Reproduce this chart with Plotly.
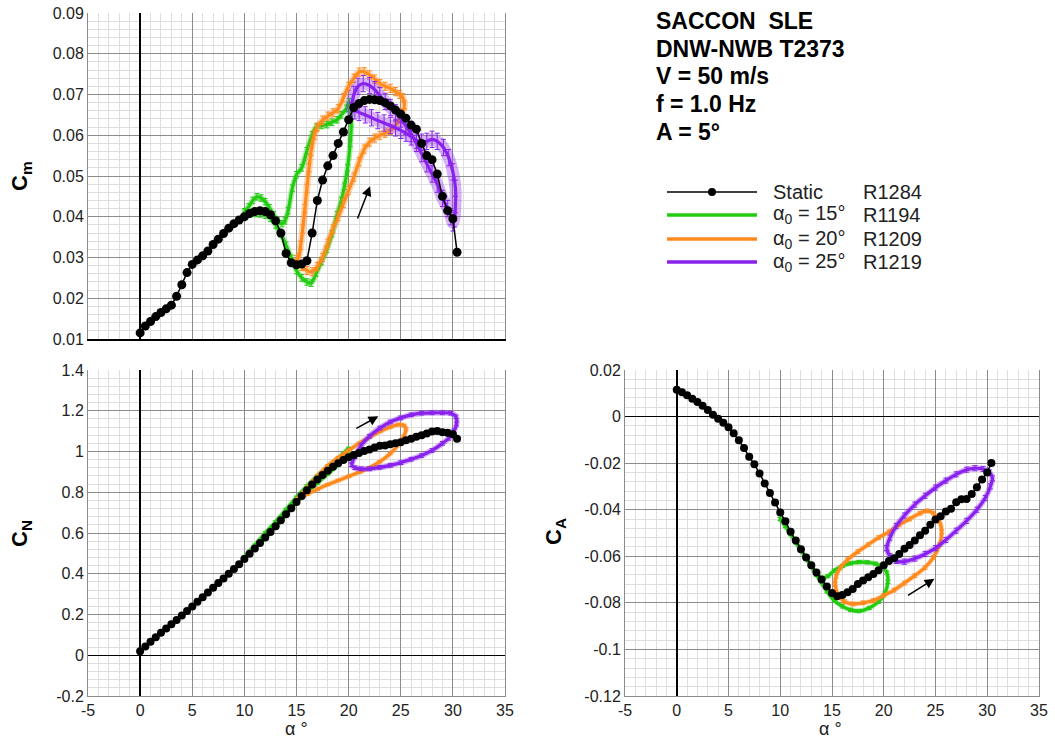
import plotly.graph_objects as go

# ---------------- data ----------------
static_alpha = [0.0,0.5,1.0,1.5,2.0,2.5,3.0,3.5,4.0,4.5,5.0,5.5,6.0,6.5,7.0,7.5,8.0,8.5,9.0,9.5,
                10.0,10.5,11.0,11.5,12.0,12.5,13.0,13.5,14.0,14.5,15.0,15.5,16.0,16.5,17.0,17.5,18.0,18.5,19.0,19.5,
                20.0,20.5,21.0,21.5,22.0,22.5,23.0,23.5,24.0,24.5,25.0,25.5,26.0,26.5,27.0,27.5,28.0,28.5,29.0,29.5,
                30.0,30.4]
static_cm = [0.0115,0.0132,0.0143,0.0155,0.0165,0.0174,0.0183,0.0205,0.0233,0.0263,
             0.0283,0.0294,0.0304,0.0316,0.0332,0.0345,0.0359,0.0372,0.0383,0.0392,
             0.0400,0.0408,0.0413,0.0415,0.0413,0.0405,0.0390,0.0360,0.0310,0.0287,
             0.0282,0.0284,0.0292,0.0360,0.0440,0.0490,0.0525,0.0550,0.0580,0.0608,
             0.0638,0.0668,0.0678,0.0685,0.0688,0.0687,0.0685,0.0680,0.0672,0.0662,
             0.0652,0.0642,0.0625,0.0615,0.0580,0.0550,0.0540,0.0505,0.0450,0.0415,
             0.0395,0.0313]
static_cn = [0.020,0.043,0.066,0.088,0.110,0.131,0.152,0.173,0.195,0.217,
             0.239,0.262,0.285,0.308,0.331,0.354,0.377,0.400,0.423,0.447,
             0.472,0.498,0.524,0.551,0.578,0.605,0.633,0.662,0.692,0.722,
             0.752,0.782,0.810,0.838,0.862,0.885,0.905,0.925,0.942,0.958,
             0.972,0.983,0.993,1.002,1.010,1.020,1.028,1.030,1.035,1.040,
             1.046,1.055,1.062,1.072,1.080,1.088,1.098,1.100,1.095,1.092,
             1.085,1.063]
static_ca = [0.0115,0.0104,0.0092,0.0077,0.0063,0.0047,0.0028,0.0008,-0.0009,-0.0026,
             -0.0046,-0.0072,-0.0102,-0.0135,-0.0173,-0.0205,-0.0244,-0.0287,-0.0328,-0.0369,
             -0.0412,-0.0450,-0.0495,-0.0532,-0.0570,-0.0605,-0.0638,-0.0670,-0.0700,-0.0730,
             -0.0758,-0.0772,-0.0766,-0.0754,-0.0740,-0.0719,-0.0704,-0.0690,-0.0676,-0.0660,
             -0.0638,-0.0620,-0.0608,-0.0590,-0.0568,-0.0552,-0.0532,-0.0510,-0.0490,-0.0465,
             -0.0442,-0.0428,-0.0408,-0.0396,-0.0368,-0.0355,-0.0354,-0.0332,-0.0304,-0.0270,
             -0.0240,-0.0199]

# alpha0 = 15 deg (R1194)
g_cm_alpha = [10.0,10.5,11.0,11.5,12.0,12.5,13.0,13.5,14.0,14.5,15.0,15.5,16.0,16.4,16.9,17.4,17.9,18.4,18.9,19.3,
              19.6,19.9,20.15,20.25,20.05,19.8,19.3,18.9,18.4,17.9,17.4,16.9,16.5,16.0,15.5,15.0,14.6,14.2,13.9,13.6,
              13.2,12.8,12.4,12.0,11.6,11.2,10.8,10.4,10.0]
g_cm = [0.0412,0.0410,0.0408,0.0407,0.0404,0.0396,0.0380,0.0358,0.0330,0.0298,0.0268,0.0250,0.0240,0.0237,0.0262,0.0290,0.0320,0.0358,0.0405,0.0440,
        0.0475,0.0520,0.0580,0.0630,0.0682,0.0666,0.0650,0.0638,0.0632,0.0626,0.0624,0.0620,0.0601,0.0562,0.0520,0.0503,0.0470,0.0415,0.0390,0.0383,
        0.0390,0.0405,0.0422,0.0437,0.0446,0.0449,0.0440,0.0424,0.0412]
g_cn_alpha = [10.0,11.0,12.0,13.0,14.0,15.0,16.0,17.0,18.0,19.0,19.7,20.1,20.0,19.5,19.0,18.0,17.0,16.0,15.0,14.0,13.0,12.0,11.0,10.0]
g_cn = [0.482,0.525,0.575,0.630,0.690,0.750,0.800,0.845,0.890,0.935,0.975,1.005,1.015,0.990,0.965,0.925,0.880,0.830,0.775,0.715,0.655,0.600,0.540,0.482]
g_ca_alpha = [10.0,11.0,12.0,13.0,13.6,14.1,14.6,15.2,16.0,16.8,17.6,18.4,19.2,19.9,20.3,20.4,20.1,19.5,18.6,17.6,
              16.8,16.0,15.2,14.5,13.5,12.5,11.5,10.5,10.0]
g_ca = [-0.0440,-0.0505,-0.0572,-0.0640,-0.0680,-0.0693,-0.0685,-0.0662,-0.0642,-0.0630,-0.0625,-0.0626,-0.0632,-0.0645,-0.0670,-0.0710,-0.0760,-0.0795,-0.0822,-0.0835,
        -0.0830,-0.0815,-0.0790,-0.0750,-0.0680,-0.0610,-0.0540,-0.0470,-0.0440]

# alpha0 = 20 deg (R1209)
o_cm_alpha = [15.0,15.5,16.0,16.5,17.0,17.5,18.0,18.5,19.0,19.5,20.0,20.5,21.0,21.5,22.0,22.5,23.0,23.5,24.0,24.5,
              24.9,25.2,25.35,25.2,24.9,24.5,24.0,23.5,23.0,22.5,22.0,21.5,21.0,20.5,20.0,19.5,19.0,18.5,18.0,17.5,
              17.0,16.7,16.4,16.2,16.0,15.8,15.6,15.4,15.2,15.0]
o_cm = [0.0295,0.0278,0.0268,0.0265,0.0278,0.0300,0.0335,0.0370,0.0400,0.0433,0.0465,0.0497,0.0535,0.0566,0.0583,0.0593,0.0600,0.0605,0.0612,0.0625,
        0.0640,0.0655,0.0675,0.0692,0.0700,0.0707,0.0715,0.0720,0.0727,0.0738,0.0748,0.0756,0.0755,0.0740,0.0720,0.0692,0.0665,0.0655,0.0647,0.0637,
        0.0620,0.0600,0.0560,0.0520,0.0470,0.0420,0.0370,0.0330,0.0300,0.0295]
o_cn_alpha = [15.1,16.0,17.0,18.0,19.0,20.0,21.0,22.0,23.0,24.0,24.8,25.3,25.5,25.3,24.8,24.0,23.0,22.0,21.0,20.0,19.0,18.0,17.0,16.0,15.1]
o_cn = [0.768,0.790,0.815,0.838,0.858,0.878,0.898,0.920,0.950,0.990,1.035,1.075,1.110,1.128,1.132,1.120,1.098,1.070,1.040,1.005,0.970,0.930,0.880,0.820,0.768]
o_ca_alpha = [15.3,15.6,16.2,17.0,18.0,19.0,20.0,21.0,22.0,23.0,24.0,24.8,25.4,25.6,25.4,24.8,24.2,23.5,22.5,21.5,
              20.5,19.5,18.5,17.5,16.5,15.8,15.4,15.3]
o_ca = [-0.0720,-0.0765,-0.0795,-0.0805,-0.0800,-0.0790,-0.0768,-0.0745,-0.0715,-0.0683,-0.0648,-0.0605,-0.0550,-0.0495,-0.0450,-0.0415,-0.0405,-0.0415,-0.0440,-0.0465,
        -0.0495,-0.0520,-0.0550,-0.0580,-0.0615,-0.0650,-0.0685,-0.0720]

# alpha0 = 25 deg (R1219)
p_cm_alpha = [20.3,20.5,20.9,21.4,22.0,22.5,23.0,23.5,24.0,24.5,25.0,25.5,26.0,26.5,27.0,27.5,28.0,28.5,29.0,29.5,
              29.8,30.0,30.15,30.25,30.25,30.0,29.6,29.1,28.5,28.0,27.5,27.0,26.5,26.0,25.5,25.0,24.5,24.0,23.4,22.8,
              22.2,21.6,21.0,20.6,20.3]
p_cm = [0.0660,0.0700,0.0720,0.0727,0.0722,0.0712,0.0697,0.0683,0.0668,0.0655,0.0640,0.0622,0.0604,0.0580,0.0555,0.0530,0.0505,0.0480,0.0445,0.0420,
        0.0400,0.0385,0.0395,0.0430,0.0470,0.0510,0.0545,0.0570,0.0585,0.0590,0.0585,0.0583,0.0588,0.0596,0.0605,0.0612,0.0618,0.0624,0.0630,0.0636,
        0.0643,0.0650,0.0656,0.0660,0.0660]
p_cn_alpha = [20.3,20.6,21.2,22.0,23.0,24.0,25.0,26.0,27.0,28.0,29.0,29.8,30.3,30.35,30.1,29.6,29.0,28.0,27.0,26.0,25.0,24.0,23.0,22.0,21.2,20.6,20.3]
p_cn = [0.935,0.975,1.030,1.075,1.115,1.145,1.165,1.180,1.188,1.190,1.190,1.188,1.170,1.135,1.100,1.065,1.040,1.005,0.980,0.962,0.945,0.932,0.922,0.915,0.915,0.920,0.935]
p_ca_alpha = [20.3,20.6,21.2,22.0,23.0,24.0,25.0,26.0,27.0,28.0,29.0,29.8,30.3,30.5,30.2,29.6,28.8,28.0,27.0,26.0,25.0,24.0,23.0,22.0,21.2,20.6,20.3]
p_ca = [-0.0565,-0.0600,-0.0620,-0.0623,-0.0610,-0.0590,-0.0565,-0.0530,-0.0490,-0.0448,-0.0400,-0.0350,-0.0300,-0.0265,-0.0240,-0.0225,-0.0222,-0.0228,-0.0248,-0.0275,
        -0.0305,-0.0340,-0.0378,-0.0425,-0.0470,-0.0520,-0.0565]

# measurement scatter (half error-bar sizes)
err_cm = {"g": 0.0008, "o": 0.0010, "p": 0.0020}
err_cn = {"g": 0.006, "o": 0.006, "p": 0.009}
err_ca = {"g": 0.0007, "o": 0.0008, "p": 0.0011}

alpha_ticks = [-5, 0, 5, 10, 15, 20, 25, 30, 35]
alpha_ticktext = ["-5", "0", "5", "10", "15", "20", "25", "30", "35"]
cm_ticks = [0.01, 0.02, 0.03, 0.04, 0.05, 0.06, 0.07, 0.08, 0.09]
cm_ticktext = ["0.01", "0.02", "0.03", "0.04", "0.05", "0.06", "0.07", "0.08", "0.09"]
cn_ticks = [-0.2, 0, 0.2, 0.4, 0.6, 0.8, 1.0, 1.2, 1.4]
cn_ticktext = ["-0.2", "0", "0.2", "0.4", "0.6", "0.8", "1", "1.2", "1.4"]
ca_ticks = [-0.12, -0.1, -0.08, -0.06, -0.04, -0.02, 0, 0.02]
ca_ticktext = ["-0.12", "-0.1", "-0.08", "-0.06", "-0.04", "-0.02", "0", "0.02"]

legend_labels = ["Static", "α<sub>0</sub> = 15°", "α<sub>0</sub> = 20°", "α<sub>0</sub> = 25°"]
legend_runs = ["R1284", "R1194", "R1209", "R1219"]
info_lines = ["SACCON\u00a0 SLE", "DNW-NWB T2373", "V = 50 m/s", "f = 1.0 Hz", "A = 5°"]

# ---------------- style / geometry ----------------
GREEN = "#22cc11"
ORANGE = "#ff8a1e"
PURPLE = "#8a22ee"
FONT = "Arial, Liberation Sans, sans-serif"
W, H = 1055, 738
OFF = 0   # body margin removed by post_script below

def px(xs):
    return (xs - OFF) / W

def py(ys):
    return 1 - (ys - OFF) / H

fig = go.Figure()

panels = [
    ("x", "y", static_cm, [(g_cm_alpha, g_cm, GREEN, err_cm["g"], 6), (o_cm_alpha, o_cm, ORANGE, err_cm["o"], 7), (p_cm_alpha, p_cm, PURPLE, err_cm["p"], 12)], 9),
    ("x2", "y2", static_cn, [(g_cn_alpha, g_cn, GREEN, err_cn["g"], 5), (o_cn_alpha, o_cn, ORANGE, err_cn["o"], 5), (p_cn_alpha, p_cn, PURPLE, err_cn["p"], 6)], 8),
    ("x3", "y3", static_ca, [(g_ca_alpha, g_ca, GREEN, err_ca["g"], 5), (o_ca_alpha, o_ca, ORANGE, err_ca["o"], 5), (p_ca_alpha, p_ca, PURPLE, err_ca["p"], 6)], 8),
]

for xa, ya, st, loops, msize in panels:
    for ax_, ay_, col, err, halo in loops:
        fig.add_trace(go.Scatter(
            x=ax_, y=ay_, xaxis=xa, yaxis=ya, mode="lines", opacity=0.35,
            line=dict(color=col, width=halo, shape="spline", smoothing=0.8),
            showlegend=False, hoverinfo="skip"))
        fig.add_trace(go.Scatter(
            x=ax_, y=ay_, xaxis=xa, yaxis=ya, mode="lines",
            line=dict(color=col, width=3.2, shape="spline", smoothing=0.8),
            error_y=dict(type="constant", value=err, color=col, thickness=1, width=2.5),
            showlegend=False, hoverinfo="skip"))
    fig.add_trace(go.Scatter(
        x=static_alpha, y=st, xaxis=xa, yaxis=ya, mode="lines+markers",
        line=dict(color="black", width=1.5),
        marker=dict(color="black", size=msize),
        showlegend=False, hoverinfo="skip"))

MAJ = "#8c8c8c"
MIN = "#dedede"

def xax(domain, show_labels, bottom_black=False):
    return dict(domain=domain, range=[-5, 35], tickmode="array", tickvals=alpha_ticks, ticktext=alpha_ticktext,
                showticklabels=show_labels, ticks="", showgrid=True, gridcolor=MAJ, gridwidth=1, automargin=False,
                ticklabeloverflow="allow",
                minor=dict(tickmode="linear", tick0=0, dtick=1, showgrid=True, gridcolor=MIN, gridwidth=1, ticks=""),
                zeroline=True, zerolinecolor="black", zerolinewidth=1.5,
                showline=True, linecolor="black" if bottom_black else MAJ, linewidth=1.5 if bottom_black else 1,
                mirror=False, tickfont=dict(family=FONT, size=16, color="#222"))

def yax(domain, anchor, rng, tv, tt, mdt):
    return dict(domain=domain, anchor=anchor, range=rng, tickmode="array", tickvals=tv, ticktext=tt, ticks="",
                showgrid=True, gridcolor=MAJ, gridwidth=1, automargin=False, ticklabeloverflow="allow",
                minor=dict(tickmode="linear", tick0=0, dtick=mdt, showgrid=True, gridcolor=MIN, gridwidth=1, ticks=""),
                zeroline=True, zerolinecolor="black", zerolinewidth=1.5,
                showline=True, linecolor=MAJ, linewidth=1, mirror=True,
                tickfont=dict(family=FONT, size=16, color="#222"))

fig.update_layout(
    width=W, height=H, margin=dict(l=0, r=0, t=0, b=0, autoexpand=False),
    paper_bgcolor="white", plot_bgcolor="white", showlegend=False,
    xaxis=dict(**xax([px(88), px(505)], False, True), anchor="y"),
    yaxis=yax([py(339), py(13)], "x", [0.01, 0.09], cm_ticks, cm_ticktext, 0.002),
    xaxis2=dict(**xax([px(88), px(505)], True), anchor="y2"),
    yaxis2=yax([py(696), py(370)], "x2", [-0.2, 1.4], cn_ticks, cn_ticktext, 0.04),
    xaxis3=dict(**xax([px(625), px(1039)], True), anchor="y3"),
    yaxis3=yax([py(696), py(370)], "x3", [-0.12, 0.02], ca_ticks, ca_ticktext, 0.004),
)

anns = []
# axis titles
for txt, xs, ys in [("<b>C<sub>m</sub></b>", 21, 176), ("<b>C<sub>N</sub></b>", 21, 534), ("<b>C<sub>A</sub></b>", 555, 532)]:
    anns.append(dict(text=txt, x=px(xs), y=py(ys), xref="paper", yref="paper", xanchor="center", yanchor="middle",
                     textangle=-90, showarrow=False, font=dict(family=FONT, size=22, color="black")))
for xs in [296, 830]:
    anns.append(dict(text="α °", x=px(xs), y=py(729), xref="paper", yref="paper", xanchor="center", yanchor="middle",
                     showarrow=False, font=dict(family=FONT, size=18, color="#222")))

# info block
for i, line in enumerate(info_lines):
    anns.append(dict(text="<b>" + line + "</b>", x=px(654), y=py(21 + i * 27.7), xref="paper", yref="paper",
                     xanchor="left", yanchor="middle", showarrow=False, font=dict(family=FONT, size=23, color="black")))

# legend
leg_y = [192, 215, 239, 262]
leg_cols = ["black", GREEN, ORANGE, PURPLE]
shapes = []
for i in range(4):
    yp = py(leg_y[i])
    shapes.append(dict(type="line", xref="paper", yref="paper", x0=px(667), x1=px(757), y0=yp, y1=yp,
                       line=dict(color=leg_cols[i], width=1.5 if i == 0 else 3.5)))
    anns.append(dict(text=legend_labels[i], x=px(771), y=yp, xref="paper", yref="paper", xanchor="left",
                     yanchor="middle", showarrow=False, font=dict(family=FONT, size=20, color="#222")))
    anns.append(dict(text=legend_runs[i], x=px(861), y=yp, xref="paper", yref="paper", xanchor="left",
                     yanchor="middle", showarrow=False, font=dict(family=FONT, size=20, color="#222")))
shapes.append(dict(type="circle", xref="paper", yref="paper",
                   x0=px(708), x1=px(716), y0=py(196), y1=py(188),
                   fillcolor="black", line=dict(color="black", width=0)))

# direction arrows
arrows = [("x", "y", 20.8, 0.0392, 22.06, 0.0475),
          ("x2", "y2", 20.6, 1.109, 22.85, 1.173),
          ("x3", "y3", 22.2, -0.0772, 24.9, -0.0697)]
for xr, yr, x0, y0, x1, y1 in arrows:
    anns.append(dict(x=x1, y=y1, ax=x0, ay=y0, xref=xr, yref=yr, axref=xr, ayref=yr, text="",
                     showarrow=True, arrowhead=2, arrowsize=1.3, arrowwidth=1.5, arrowcolor="black"))

fig.update_layout(annotations=anns, shapes=shapes)
fig.write_html("out.html", config={"displayModeBar": False, "staticPlot": True},
               post_script="document.body.style.margin='0';document.body.style.overflow='hidden';")
